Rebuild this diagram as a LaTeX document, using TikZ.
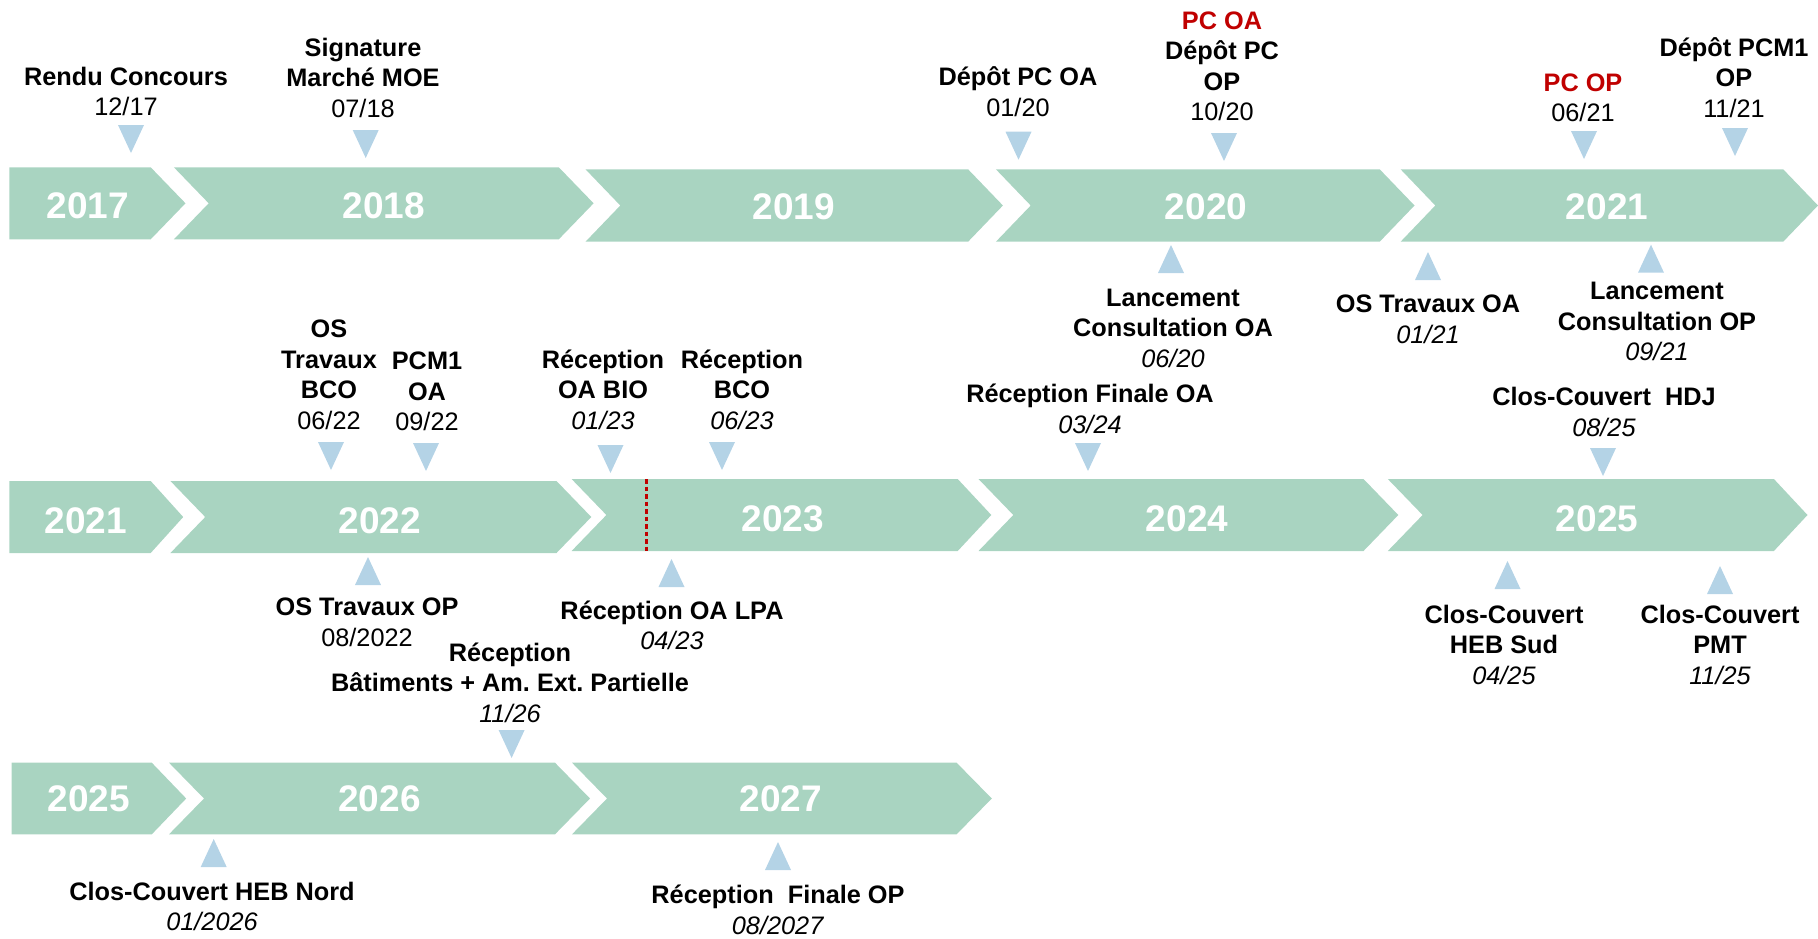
\documentclass[tikz,border=0pt]{standalone}
\usepackage{fontspec}
\setmainfont{Liberation Sans}
\frenchspacing
\definecolor{barc}{RGB}{169,212,193}
\definecolor{tric}{RGB}{180,211,230}
\definecolor{redc}{RGB}{192,0,0}
\newcommand\tdn[2]{\fill[tri] (#1-13,#2) -- (#1+13,#2) -- (#1,#2+28) -- cycle;}
\newcommand\tup[2]{\fill[tri] (#1-13,#2) -- (#1+13,#2) -- (#1,#2-28) -- cycle;}
% first chevron: left, flat, tip, top, bottom
\newcommand\hplate[5]{\fill[bar] (#1,#4) -- (#2,#4) -- (#3,{(#4+#5)/2}) -- (#2,#5) -- (#1,#5) -- cycle;}
% chevron: start, notch, flat, tip, top, bottom
\newcommand\chev[6]{\fill[bar] (#1,#5) -- (#3,#5) -- (#4,{(#5+#6)/2}) -- (#3,#6) -- (#1,#6) -- (#2,{(#5+#6)/2}) -- cycle;}
\begin{document}
\begin{tikzpicture}[x=1pt,y=-1pt,
  bar/.style={fill=barc},
  tri/.style={fill=tric},
  yr/.style={text=white,anchor=base,inner sep=0pt,font=\fontsize{37}{40}\selectfont\bfseries},
  lbl/.style={align=center,anchor=base,inner sep=0pt,font=\fontsize{25.3}{30.5}\selectfont},
  reddot/.style={draw=redc,line width=3pt,dash pattern=on 4.5pt off 3pt}]
\useasboundingbox (0,0) rectangle (1818,938);
% ---- row 1
\hplate{9.3}{150.7}{185.5}{167.3}{239.3}
\chev{173.9}{208.7}{558.8}{593.6}{167.3}{239.3}
\chev{585.5}{620.3}{968.1}{1002.9}{169.3}{241.7}
\chev{995.9}{1030.7}{1379.7}{1414.5}{169.3}{241.7}
\chev{1400.6}{1435.3}{1783.2}{1818}{169.3}{241.7}
\node[yr] (y17) at (88,218) {2017};
\node[yr] (y18) at (384,218) {2018};
\node[yr] (y19) at (794,219.5) {2019};
\node[yr] (y20) at (1206,219.5) {2020};
\node[yr] (y21a) at (1607,219.5) {2021};
% ---- row 2
\hplate{9.3}{150.7}{183.2}{481}{553}
\chev{170.4}{205.2}{556.5}{591.3}{481}{553}
\chev{571.6}{606.4}{957.7}{991.3}{479}{551}
\chev{978.5}{1013.3}{1363.5}{1398.3}{479}{551}
\chev{1387.8}{1422.6}{1773.9}{1807.5}{479}{551}
\draw[reddot] (646,479) -- (646,551);
\node[yr] (y21b) at (86,533) {2021};
\node[yr] (y22) at (380,533) {2022};
\node[yr] (y23) at (783,531) {2023};
\node[yr] (y24) at (1187,531) {2024};
\node[yr] (y25a) at (1597,531) {2025};
% ---- row 3
\hplate{11.5}{151.8}{186.2}{762.7}{834.3}
\chev{169}{204}{555}{590}{762.7}{834.3}
\chev{572}{607}{956.6}{991.8}{762.7}{834.3}
\node[yr] (y25b) at (89,811) {2025};
\node[yr] (y26) at (379.5,811) {2026};
\node[yr] (y27) at (781,811) {2027};
% ---- triangles
\tdn{131}{125} \tdn{365.7}{130} \tdn{1018.5}{131.7} \tdn{1224}{133} \tdn{1584}{131} \tdn{1735}{128}
\tup{1171}{273} \tup{1428}{280} \tup{1651}{272.7}
\tdn{331}{442} \tdn{426}{443} \tdn{610.5}{445} \tdn{722}{442} \tdn{1088}{443} \tdn{1603}{448}
\tup{368}{585} \tup{671.5}{587} \tup{1507.5}{589} \tup{1720}{594}
\tdn{511.6}{730}
\tup{213.7}{867} \tup{778}{870}
% ---- labels (anchor = baseline of last line)
\node[lbl] (l1) at (126,115.7) {\textbf{Rendu Concours}\\12/17};
\node[lbl] (l2) at (363,117) {\textbf{Signature}\\\textbf{Marché MOE}\\07/18};
\node[lbl] (l3) at (1018,116.3) {\textbf{Dépôt PC OA}\\01/20};
\node[lbl] (l4) at (1222,120.7) {\textcolor{redc}{\textbf{PC OA}}\\\textbf{Dépôt PC}\\\textbf{OP}\\10/20};
\node[lbl] (l5) at (1583,121.7) {\textcolor{redc}{\textbf{PC OP}}\\06/21};
\node[lbl] (l6) at (1734,117) {\textbf{Dépôt PCM1}\\\textbf{OP}\\11/21};
\node[lbl] (l7) at (1173,367.3) {\textbf{Lancement}\\\textbf{Consultation OA}\\\textit{06/20}};
\node[lbl] (l8) at (1428,343) {\textbf{OS Travaux OA}\\\textit{01/21}};
\node[lbl] (l9) at (1657,360.7) {\textbf{Lancement}\\\textbf{Consultation OP}\\\textit{09/21}};
\node[lbl] (l10) at (329,429) {\textbf{OS}\\\textbf{Travaux}\\\textbf{BCO}\\06/22};
\node[lbl] (l11) at (427,430.7) {\textbf{PCM1}\\\textbf{OA}\\09/22};
\node[lbl] (l12) at (603,429) {\textbf{Réception}\\\textbf{OA BIO}\\\textit{01/23}};
\node[lbl] (l13) at (742,429) {\textbf{Réception}\\\textbf{BCO}\\\textit{06/23}};
\node[lbl] (l14) at (1090,433) {\textbf{Réception Finale OA}\\\textit{03/24}};
\node[lbl] (l15) at (1604,436.3) {\textbf{Clos-Couvert\ \ HDJ}\\\textit{08/25}};
\node[lbl] (l16) at (367,646.3) {\textbf{OS Travaux OP}\\08/2022};
\node[lbl] (l17) at (672,649.7) {\textbf{Réception OA LPA}\\\textit{04/23}};
\node[lbl] (l18) at (510,722.3) {\textbf{Réception}\\\textbf{Bâtiments + Am. Ext. Partielle}\\\textit{11/26}};
\node[lbl] (l19) at (1504,684) {\textbf{Clos-Couvert}\\\textbf{HEB Sud}\\\textit{04/25}};
\node[lbl] (l20) at (1720,684) {\textbf{Clos-Couvert}\\\textbf{PMT}\\\textit{11/25}};
\node[lbl] (l21) at (212,930.7) {\textbf{Clos-Couvert HEB Nord}\\\textit{01/2026}};
\node[lbl] (l22) at (778,934) {\textbf{Réception\ \ Finale OP}\\\textit{08/2027}};
\end{tikzpicture}
\end{document}
